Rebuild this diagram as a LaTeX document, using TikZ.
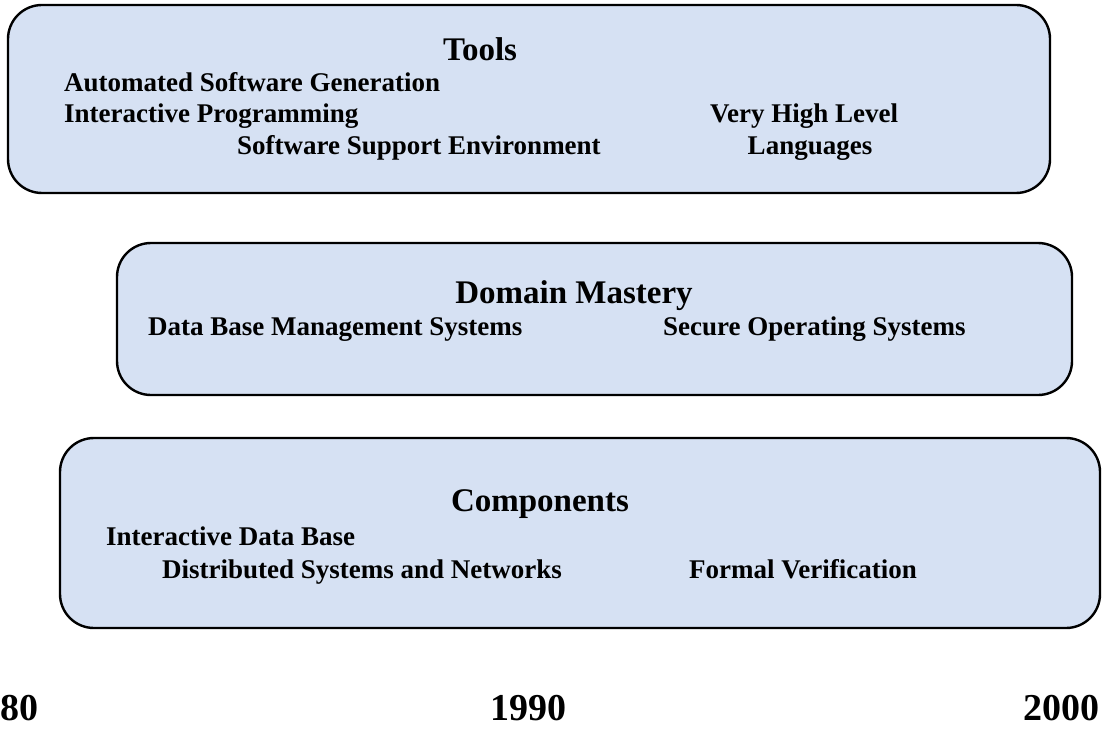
\documentclass[tikz,border=0pt]{standalone}
\usepackage{fontspec}
\setmainfont{Liberation Serif}
\definecolor{panelfill}{RGB}{214,225,243}
\begin{document}
\begin{tikzpicture}[x=1pt,y=-1pt,
  panel/.style={draw=black, line width=2.4pt, fill=panelfill, rounded corners=34pt, inner sep=0pt},
  head/.style={font=\fontsize{33}{33}\selectfont\bfseries, inner sep=0pt, anchor=base},
  item/.style={font=\fontsize{27}{27}\selectfont\bfseries, inner sep=0pt, anchor=base west},
  itemc/.style={font=\fontsize{27}{27}\selectfont\bfseries, inner sep=0pt, anchor=base},
  year/.style={font=\fontsize{38}{38}\selectfont\bfseries, inner sep=0pt}]
\useasboundingbox (0,0) rectangle (1102,730);
\node[panel, minimum width=1042pt, minimum height=188pt] (toolsbox) at (529,99) {};
\node[panel, minimum width=955pt, minimum height=152pt] (domainbox) at (594.5,319) {};
\node[panel, minimum width=1040pt, minimum height=190pt] (compbox) at (580,533) {};

\node[head] (tools) at (480,61) {Tools};
\node[item] (asg) at (64,92) {Automated Software Generation};
\node[item] (ip) at (64,123) {Interactive Programming};
\node[item] (sse) at (237,155) {Software Support Environment};
\node[itemc] (vhl) at (804,123) {Very High Level};
\node[itemc] (lang) at (810,155) {Languages};

\node[head] (domain) at (574,303) {Domain Mastery};
\node[item] (dbms) at (148,335) {Data Base Management Systems};
\node[item] (sos) at (663,335) {Secure Operating Systems};

\node[head] (comp) at (540,511) {Components};
\node[item] (idb) at (106,545) {Interactive Data Base};
\node[item] (dsn) at (162,578) {Distributed Systems and Networks};
\node[item] (fv) at (689,578) {Formal Verification};

\node[year, anchor=base west] (y80) at (0,720) {80};
\node[year, anchor=base] (y1990) at (528,720) {1990};
\node[year, anchor=base east] (y2000) at (1100,720) {2000};
\end{tikzpicture}
\end{document}
